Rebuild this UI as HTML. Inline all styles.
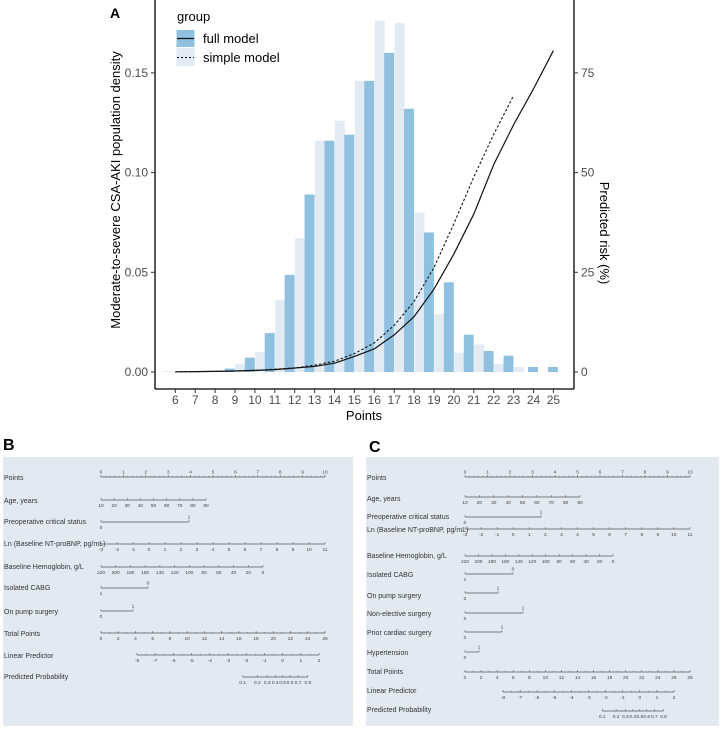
<!DOCTYPE html>
<html><head><meta charset="utf-8"><style>
html,body{margin:0;padding:0;background:#fff;width:721px;height:729px;overflow:hidden}
svg{display:block;font-family:"Liberation Sans",Arial,sans-serif}
</style></head><body>
<svg id="fig" width="721" height="729" viewBox="0 0 721 729" xmlns="http://www.w3.org/2000/svg">
<g id="panelA"></g>
<g id="nomoB"></g>
<g id="nomoC"></g>
</svg>
<script>
// ---------- Panel A data ----------
const blueX = [9,10,11,12,13,14,15,16,17,18,19,20,21,22,23,24,25];
const blueVals = [0.0017,0.0072,0.0195,0.0487,0.089,0.116,0.119,0.146,0.160,0.132,0.070,0.045,0.0187,0.0105,0.0082,0.0025,0.0025];
const lightX = [6,9,10,11,12,13,14,15,16,17,18,19,20,21,22,23];
const lightVals = [0.0005,0.004,0.010,0.036,0.067,0.116,0.126,0.146,0.176,0.175,0.080,0.029,0.0097,0.0138,0.004,0.0025];
const fullX = [6,7,8,9,10,11,12,13,14,15,16,17,18,19,20,21,22,23,24,25];
const fullRisk = [0.05,0.1,0.15,0.25,0.4,0.6,1.0,1.4,2.2,3.9,5.8,9.3,13.9,20.8,29.6,39.6,52,62,71,80.6];
const simpleX = [6,7,8,9,10,11,12,13,14,15,16,17,18,19,20,21,22,23];
const simpleRisk = [0.05,0.1,0.15,0.25,0.4,0.7,1.0,1.7,2.7,4.6,7.3,11.7,17.7,26.2,37.2,48.9,59.6,69.3];
const xTicks = [6,7,8,9,10,11,12,13,14,15,16,17,18,19,20,21,22,23,24,25];
const yTicks = [0,0.05,0.10,0.15];
const yTickLabels = ["0.00","0.05","0.10","0.15"];
const rTicks = [0,25,50,75];

const NS="http://www.w3.org/2000/svg";
function mk(tag,attrs,parent,text){const e=document.createElementNS(NS,tag);for(const k in attrs)e.setAttribute(k,attrs[k]);if(text!==undefined)e.textContent=text;parent.appendChild(e);return e;}

const X = v => 175.3 + (v-6)*19.9;
const Y = v => 372 - v/0.05*99.7;
const YR = v => 372 - v/25*99.7;
const gA = document.getElementById('panelA');
const bw = 19.9*0.5;

lightX.forEach((x,i)=>{
  const r=mk('rect',{x:X(x)+0.02*19.9 - (x===6?0.6*19.9:0), y:Y(lightVals[i]), width:bw, height:Y(0)-Y(lightVals[i]), fill:'#e2eaf4'},gA);
  
  
});
blueX.forEach((x,i)=>{
  const has = lightX.indexOf(x)>=0;
  const off = has ? -0.5*19.9+0.02*19.9 : -bw/2;
  const r=mk('rect',{x:X(x)+off-0.5, y:Y(blueVals[i]), width:bw, height:Y(0)-Y(blueVals[i]), fill:'#8fc0e0'},gA);
  
  
});
let pf=fullX.map((x,i)=>X(x)+','+YR(fullRisk[i])).join(' ');
const lf=mk('polyline',{points:pf,fill:'none',stroke:'#111',"stroke-width":1.2},gA);


let ps=simpleX.map((x,i)=>X(x)+','+YR(simpleRisk[i])).join(' ');
const ls=mk('polyline',{points:ps,fill:'none',stroke:'#111',"stroke-width":1.1,"stroke-dasharray":"2.5,2"},gA);



mk('line',{x1:155,y1:0,x2:155,y2:389,stroke:'#000',"stroke-width":1.3,},gA);
mk('line',{x1:574,y1:0,x2:574,y2:389,stroke:'#000',"stroke-width":1.3,},gA);
mk('line',{x1:155,y1:389,x2:574,y2:389,stroke:'#000',"stroke-width":1.3,},gA);
yTicks.forEach((v,i)=>{
  mk('line',{x1:151,y1:Y(v),x2:155,y2:Y(v),stroke:'#333'},gA);
  const t=mk('text',{x:148,y:Y(v)+4,"text-anchor":"end","font-size":12,fill:'#4d4d4d'},gA,yTickLabels[i]);
  
  
});
rTicks.forEach(v=>{
  mk('line',{x1:574,y1:YR(v),x2:578,y2:YR(v),stroke:'#333'},gA);
  const t=mk('text',{x:581,y:YR(v)+4,"font-size":12,fill:'#4d4d4d'},gA,String(v));
  
  
});
xTicks.forEach(v=>{
  mk('line',{x1:X(v),y1:389,x2:X(v),y2:393,stroke:'#333'},gA);
  const t=mk('text',{x:X(v),y:404,"text-anchor":"middle","font-size":12,fill:'#4d4d4d'},gA,String(v));
  
  
});
mk('text',{x:364,y:420,"text-anchor":"middle","font-size":13,fill:'#000',},gA,'Points');
mk('text',{x:0,y:0,transform:'translate(120,190) rotate(-90)',"text-anchor":"middle","font-size":13,fill:'#000',},gA,'Moderate-to-severe CSA-AKI population density');
mk('text',{x:0,y:0,transform:'translate(600,233) rotate(90)',"text-anchor":"middle","font-size":13,fill:'#000',},gA,'Predicted risk (%)');
mk('text',{x:110,y:18,"font-size":14,"font-weight":"bold",fill:'#000',},gA,'A');
const lg=mk('g',{},gA);
mk('text',{x:177,y:21,"font-size":13,fill:'#000',},lg,'group');
mk('rect',{x:176.5,y:30,width:18,height:17,fill:'#8fc0e0'},lg);
mk('line',{x1:177,y1:38.5,x2:194,y2:38.5,stroke:'#111',"stroke-width":1.2},lg);
mk('rect',{x:176.5,y:48,width:18,height:18,fill:'#e2eaf4'},lg);
mk('line',{x1:177,y1:57.5,x2:194,y2:57.5,stroke:'#111',"stroke-width":1,"stroke-dasharray":"2,2"},lg);
mk('text',{x:203,y:43,"font-size":13,fill:'#000',},lg,'full model');
mk('text',{x:203,y:62,"font-size":13,fill:'#000',},lg,'simple model');

// ---------- Nomograms ----------
function range(a,b,s){const r=[];for(let v=a;v<=b+1e-9;v+=s)r.push(+v.toFixed(4));return r;}
function logit(p){return Math.log(p/(1-p));}
function nomogram(g, cfg){
  mk('rect',{x:cfg.bx,y:457,width:cfg.bw,height:269,fill:'#e3e9f3',},g);
  mk('text',{x:cfg.lx,y:cfg.ly,"font-size":16,"font-weight":"bold",fill:'#000',},g,cfg.letter);
  cfg.rows.forEach(r=>{
    const row=mk('g',{},g);
    
    
    mk('text',{x:cfg.bx+1,y:r.ty,"font-size":7,fill:'#333'},row,r.label);
    const xs=r.vals.map(r.map);
    const x0=Math.min(...xs), x1=Math.max(...xs);
    mk('line',{x1:x0,y1:r.y,x2:x1,y2:r.y,stroke:'#555',"stroke-width":0.7},row);
    if(r.minor) r.minor.forEach(v=>mk('line',{x1:r.map(v),y1:r.y,x2:r.map(v),y2:r.y-1.2,stroke:'#555',"stroke-width":0.5},row));
    r.vals.forEach((v,i)=>{
      const x=r.map(v);
      const up = r.labUp ? r.labUp[i] : r.up;
      mk('line',{x1:x,y1:r.y,x2:x,y2:r.y-2,stroke:'#555',"stroke-width":0.5},row);
      mk('text',{x:x,y:up? r.y-3.5 : r.y+6.8,"text-anchor":"middle","font-size":4.8,fill:'#444'},row, String(v));
    });
  });
}
const bLP = v => 137 + (v+8)*18.2;
const gB=document.getElementById('nomoB');
nomogram(gB,{bx:3,bw:350,lx:3,ly:450,letter:'B',rows:[
 {label:'Points',ty:480,y:477,vals:range(0,10,1),map:v=>101+v*22.4,up:true,minor:range(0,10,0.2)},
 {label:'Age, years',ty:503,y:500,vals:range(10,90,10),map:v=>101+(v-10)/80*105,up:false},
 {label:'Preoperative critical status',ty:524,y:522,vals:[0,1],map:v=>101+v*88,labUp:[false,true]},
 {label:'Ln (Baseline NT-proBNP, pg/mL)',ty:546,y:544,vals:range(-3,11,1),map:v=>101+(v+3)/14*224,up:false},
 {label:'Baseline Hemoglobin, g/L',ty:569,y:567,vals:range(0,220,20).reverse(),map:v=>101+(220-v)/220*162,up:false},
 {label:'Isolated CABG',ty:590,y:588,vals:[1,0],map:v=>v===1?101:148,labUp:[false,true]},
 {label:'On pump surgery',ty:614,y:611,vals:[0,1],map:v=>101+v*32,labUp:[false,true]},
 {label:'Total Points',ty:636,y:633,vals:range(0,26,2),map:v=>101+v/26*224,up:false,minor:range(0,26,1)},
 {label:'Linear Predictor',ty:658,y:655,vals:range(-8,2,1),map:bLP,up:false,minor:range(-8,2,0.5)},
 {label:'Predicted Probability',ty:679,y:677,vals:[0.1,0.2,0.3,0.4,0.5,0.6,0.7,0.8],map:p=>bLP(logit(p)),up:false}
]});
const cLP = v => 503 + (v+8)*17.1;
const gC=document.getElementById('nomoC');
nomogram(gC,{bx:366,bw:353,lx:369,ly:452,letter:'C',rows:[
 {label:'Points',ty:480,y:477,vals:range(0,10,1),map:v=>465+v*22.5,up:true,minor:range(0,10,0.2)},
 {label:'Age, years',ty:501,y:497,vals:range(10,90,10),map:v=>465+(v-10)/80*115,up:false},
 {label:'Preoperative critical status',ty:519,y:517,vals:[0,1],map:v=>465+v*76,labUp:[false,true]},
 {label:'Ln (Baseline NT-proBNP, pg/mL)',ty:532,y:529,vals:range(-3,11,1),map:v=>465+(v+3)/14*225,up:false},
 {label:'Baseline Hemoglobin, g/L',ty:558,y:556,vals:range(0,220,20).reverse(),map:v=>465+(220-v)/220*148,up:false},
 {label:'Isolated CABG',ty:577,y:574,vals:[1,0],map:v=>v===1?465:513,labUp:[false,true]},
 {label:'On pump surgery',ty:598,y:593,vals:[0,1],map:v=>465+v*33,labUp:[false,true]},
 {label:'Non-elective surgery',ty:616,y:613,vals:[0,1],map:v=>465+v*58,labUp:[false,true]},
 {label:'Prior cardiac surgery',ty:635,y:632,vals:[0,1],map:v=>465+v*37,labUp:[false,true]},
 {label:'Hypertension',ty:655,y:652,vals:[0,1],map:v=>465+v*14,labUp:[false,true]},
 {label:'Total Points',ty:674,y:672,vals:range(0,28,2),map:v=>465+v/28*225,up:false,minor:range(0,28,1)},
 {label:'Linear Predictor',ty:693,y:692,vals:range(-8,2,1),map:cLP,up:false,minor:range(-8,2,0.5)},
 {label:'Predicted Probability',ty:712,y:711,vals:[0.1,0.2,0.3,0.4,0.5,0.6,0.7,0.8],map:p=>cLP(logit(p)),up:false}
]});
</script>
</body></html>
